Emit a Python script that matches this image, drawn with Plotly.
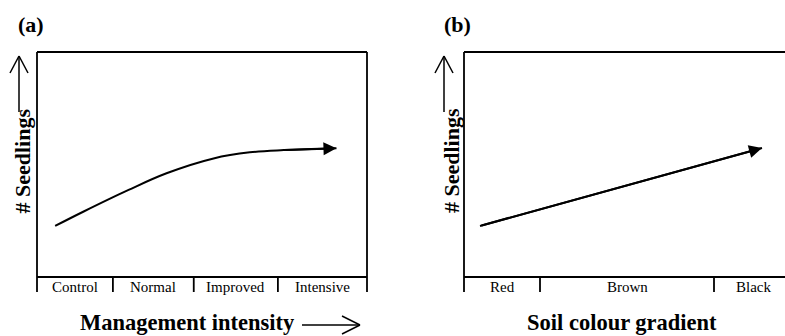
import plotly.graph_objects as go

W, H = 785, 336

# Panel (a): seedling response along the management-intensity classes
mgmt_labels = ["Control", "Normal", "Improved", "Intensive"]
mgmt_edges = [0.0, 0.92, 1.90, 2.92, 4.0]
mgmt_x = [0.22, 0.56, 1.11, 1.57, 2.14, 2.58, 2.99, 3.63]
mgmt_y = [2.27, 2.90, 3.87, 4.61, 5.27, 5.54, 5.64, 5.72]

# Panel (b): seedling response along the soil colour gradient
soil_labels = ["Red", "Brown", "Black"]
soil_edges = [0.0, 0.76, 2.50, 3.28]
soil_x = [0.16, 2.98]
soil_y = [2.27, 5.73]

FONT = "Liberation Serif"
LW = 1.8


def px(x):
    return x / W


def py(y):
    return 1 - y / H


fig = go.Figure()

fig.add_trace(go.Scatter(x=mgmt_x, y=mgmt_y, mode="lines", line=dict(color="black", width=2, shape="spline"),
                         xaxis="x", yaxis="y", showlegend=False, hoverinfo="skip"))
fig.add_trace(go.Scatter(x=soil_x, y=soil_y, mode="lines", line=dict(color="black", width=2),
                         xaxis="x2", yaxis="y2", showlegend=False, hoverinfo="skip"))

ax_common = dict(showgrid=False, zeroline=False, showticklabels=False, showline=False, ticks="", fixedrange=True)
y_dom = [py(277), py(52)]
fig.update_layout(
    width=W, height=H,
    margin=dict(l=0, r=0, t=0, b=0),
    paper_bgcolor="white", plot_bgcolor="white",
    xaxis=dict(domain=[px(37), px(367)], range=[0, 4], **ax_common),
    yaxis=dict(domain=y_dom, range=[0, 10], **ax_common),
    xaxis2=dict(domain=[px(464), 1.0], range=[0, 3.21], anchor="y2", **ax_common),
    yaxis2=dict(domain=y_dom, range=[0, 10], anchor="x2", **ax_common),
    showlegend=False,
)

shapes = []
annotations = []
TICK = -15 / 225  # divider length below the frame, in domain units


def seg(xref, yref, x0, y0, x1, y1, w=LW):
    shapes.append(dict(type="line", xref=xref, yref=yref, x0=x0, y0=y0, x1=x1, y1=y1,
                       line=dict(color="black", width=w)))


# Frames
seg("x domain", "y domain", 0, 1, 1, 1)
seg("x domain", "y domain", 0, 0, 1, 0)
seg("x2 domain", "y2 domain", 0, 1, 1, 1)
seg("x2 domain", "y2 domain", 0, 0, 1, 0)
seg("x domain", "y domain", 0, TICK, 0, 1)
seg("x domain", "y domain", 1, TICK, 1, 1)
seg("x2 domain", "y2 domain", 0, TICK, 0, 1)

# Category dividers and labels
CAT_FONT = dict(family=FONT, size=15, color="black")
for e in mgmt_edges[1:-1]:
    seg("x", "y domain", e, TICK, e, 0)
for i, lab in enumerate(mgmt_labels):
    annotations.append(dict(x=(mgmt_edges[i] + mgmt_edges[i + 1]) / 2, y=-10 / 225, xref="x", yref="y domain",
                            text=lab, showarrow=False, font=CAT_FONT, xanchor="center", yanchor="middle"))
for e in soil_edges[1:-1]:
    seg("x2", "y2 domain", e, TICK, e, 0)
for i, lab in enumerate(soil_labels):
    annotations.append(dict(x=(soil_edges[i] + soil_edges[i + 1]) / 2, y=-10 / 225, xref="x2", yref="y2 domain",
                            text=lab, showarrow=False, font=CAT_FONT, xanchor="center", yanchor="middle"))

# Arrowheads at the end of each response line
for xa, ya, xs, ys in [("x", "y", mgmt_x, mgmt_y), ("x2", "y2", soil_x, soil_y)]:
    annotations.append(dict(x=xs[-1], y=ys[-1], ax=xs[-2], ay=ys[-2], xref=xa, yref=ya, axref=xa, ayref=ya,
                            text="", showarrow=True, arrowhead=2, arrowsize=1.3, arrowwidth=2,
                            arrowcolor="black", standoff=0))

# Panel tags
for tag, cx in [("(a)", 31), ("(b)", 457)]:
    annotations.append(dict(x=px(cx), y=py(25), xref="paper", yref="paper", text=f"<b>{tag}</b>",
                            showarrow=False, font=dict(family=FONT, size=22, color="black"),
                            xanchor="center", yanchor="middle"))

# Y-axis titles with upward open arrows
for tx, ax_x in [(21.5, 19), (451, 444)]:
    annotations.append(dict(x=px(tx), y=py(161), xref="paper", yref="paper", text="<b># Seedlings</b>",
                            textangle=-90, showarrow=False, font=dict(family=FONT, size=22, color="black"),
                            xanchor="center", yanchor="middle"))
    seg("paper", "paper", px(ax_x), py(112), px(ax_x), py(56), w=1.5)
    seg("paper", "paper", px(ax_x), py(56), px(ax_x - 9), py(73), w=1.5)
    seg("paper", "paper", px(ax_x), py(56), px(ax_x + 9), py(73), w=1.5)

# X-axis titles
TITLE_Y = 322
annotations.append(dict(x=px(187.5), y=py(TITLE_Y), xref="paper", yref="paper", text="<b>Management intensity</b>",
                        showarrow=False, font=dict(family=FONT, size=22.5, color="black"),
                        xanchor="center", yanchor="middle", borderpad=0))
seg("paper", "paper", px(302), py(325), px(360), py(325), w=1.5)
seg("paper", "paper", px(360), py(325), px(342), py(316), w=1.5)
seg("paper", "paper", px(360), py(325), px(342), py(334), w=1.5)

annotations.append(dict(x=px(621.7), y=py(TITLE_Y), xref="paper", yref="paper", text="<b>Soil colour gradient</b>",
                        showarrow=False, font=dict(family=FONT, size=22.5, color="black"),
                        xanchor="center", yanchor="middle", borderpad=0))

fig.update_layout(shapes=shapes, annotations=annotations)
fig.write_html("out.html")
